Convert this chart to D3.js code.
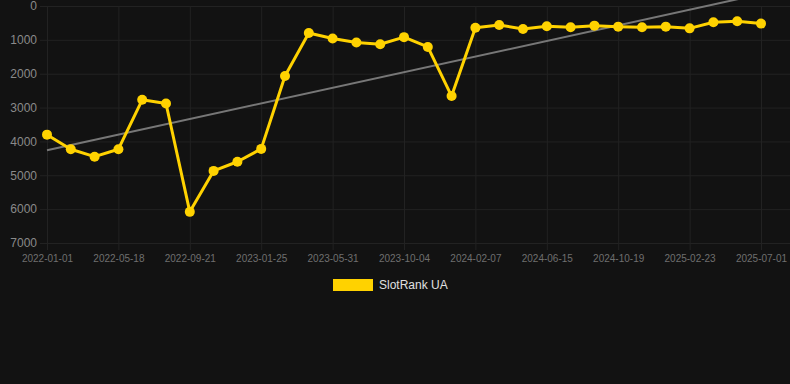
<!DOCTYPE html>
<html>
<head>
<meta charset="utf-8">
<script src="https://cdn.jsdelivr.net/npm/d3@7"></script>
<style>
  html, body { margin: 0; padding: 0; background: #121212; }
  svg { display: block; font-family: "Liberation Sans", Arial, Helvetica, sans-serif; }
</style>
</head>
<body>
<div id="chart"></div>
<script>
// dates of each point (ticks shown on every third one)
const dates = [
  '2022-01-01', '2022-02-15', '2022-04-01',
  '2022-05-18', '2022-06-29', '2022-08-10',
  '2022-09-21', '2022-11-02', '2022-12-14',
  '2023-01-25', '2023-03-08', '2023-04-19',
  '2023-05-31', '2023-07-12', '2023-08-23',
  '2023-10-04', '2023-11-15', '2023-12-27',
  '2024-02-07', '2024-03-21', '2024-05-03',
  '2024-06-15', '2024-07-27', '2024-09-07',
  '2024-10-19', '2024-11-30', '2025-01-11',
  '2025-02-23', '2025-04-06', '2025-05-19',
  '2025-07-01'
];
const rank = [
  3800, 4230, 4450, 4230, 2770, 2880, 6080, 4870, 4600, 4220,
  2070, 800, 960, 1080, 1130, 920, 1210, 2660, 640, 560,
  680, 600, 630, 580, 610, 630, 610, 660, 480, 450, 520
];
const tickDates = [
  '2022-01-01', '2022-05-18', '2022-09-21', '2023-01-25', '2023-05-31', '2023-10-04',
  '2024-02-07', '2024-06-15', '2024-10-19', '2025-02-23', '2025-07-01'
];
const yTicks = [0, 1000, 2000, 3000, 4000, 5000, 6000, 7000];
const seriesName = 'SlotRank UA';

const width = 790;
const height = 384;
const margin = { top: 6, right: 29, bottom: 141, left: 47 };

const svg = d3.select('#chart')
  .append('svg')
  .attr('width', width)
  .attr('height', height);

const x = d3.scalePoint()
  .domain(dates)
  .range([margin.left, width - margin.right]);

const y = d3.scaleLinear()
  .domain([0, 7000])
  .range([margin.top, height - margin.bottom]);

// grid
svg.append('g')
  .selectAll('line')
  .data(yTicks)
  .join('line')
  .attr('x1', margin.left - 7)
  .attr('x2', width)
  .attr('y1', (d) => y(d) + 0.5)
  .attr('y2', (d) => y(d) + 0.5)
  .attr('stroke', '#222');

svg.append('g')
  .selectAll('line')
  .data(tickDates)
  .join('line')
  .attr('x1', (d) => x(d) + 0.5)
  .attr('x2', (d) => x(d) + 0.5)
  .attr('y1', margin.top)
  .attr('y2', y(7000) + 7)
  .attr('stroke', '#222');

// axes labels
function yAxis(g) {
  g.attr('transform', `translate(${margin.left - 10}, 0)`)
    .call(d3.axisLeft(y).tickValues(yTicks).tickSize(0).tickPadding(0).tickFormat((d) => d))
    .call((s) => s.select('.domain').remove())
    .attr('font-size', '12px')
    .attr('font-family', null);
  g.selectAll('text').attr('fill', '#8a8a8a');
}

function xAxis(g) {
  g.attr('transform', `translate(0,${y(7000) + 9})`)
    .call(d3.axisBottom(x).tickValues(tickDates).tickSize(0).tickPadding(3))
    .call((s) => s.select('.domain').remove())
    .attr('font-size', '10px')
    .attr('font-family', null);
  g.selectAll('text').attr('fill', '#6f6f6f');
}

svg.append('g').call(yAxis);
svg.append('g').call(xAxis);

// trend line (least squares on index)
const n = rank.length;
const mx = d3.mean(d3.range(n));
const my = d3.mean(rank);
const slope = d3.sum(rank, (v, i) => (i - mx) * (v - my)) / d3.sum(d3.range(n), (i) => (i - mx) ** 2);
const icpt = my - slope * mx;

svg.append('line')
  .attr('x1', x(dates[0]))
  .attr('y1', y(icpt))
  .attr('x2', x(dates[n - 1]))
  .attr('y2', y(icpt + slope * (n - 1)))
  .attr('stroke', '#777')
  .attr('stroke-width', 2);

// series
const line = d3.line()
  .x((d, i) => x(dates[i]))
  .y((d) => y(d));

svg.append('path')
  .datum(rank)
  .attr('d', line)
  .attr('fill', 'none')
  .attr('stroke', '#ffd200')
  .attr('stroke-width', 3)
  .attr('stroke-linejoin', 'round');

svg.append('g')
  .attr('fill', '#ffd200')
  .selectAll('circle')
  .data(rank)
  .join('circle')
  .attr('cx', (d, i) => x(dates[i]))
  .attr('cy', (d) => y(d))
  .attr('r', 5);

// legend
const legend = svg.append('g').attr('transform', 'translate(333, 279)');
legend.append('rect')
  .attr('width', 40)
  .attr('height', 12)
  .attr('fill', '#ffd200');
legend.append('text')
  .attr('x', 46)
  .attr('y', 10)
  .attr('font-size', '12px')
  .attr('fill', '#e0e0e0')
  .text(seriesName);
</script>
</body>
</html>
